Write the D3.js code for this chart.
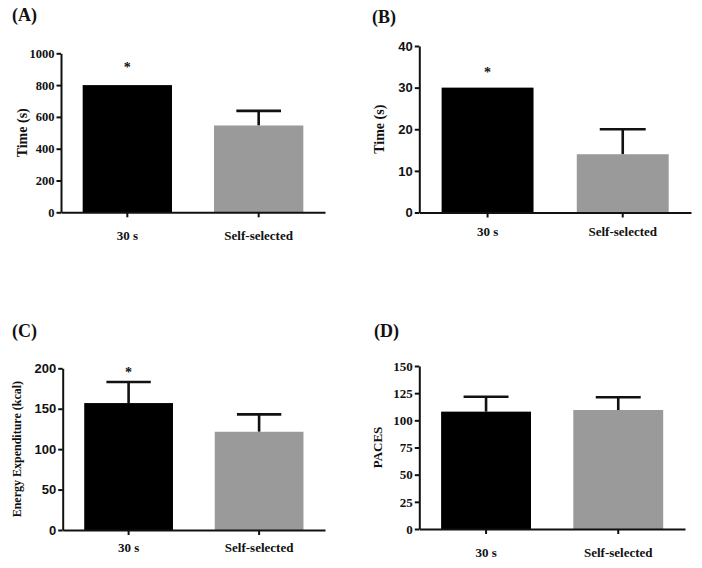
<!DOCTYPE html>
<html>
<head>
<meta charset="utf-8">
<script src="https://cdn.jsdelivr.net/npm/d3@7/dist/d3.min.js"></script>
<style>
    body { margin: 0; background: #fff; }
    svg text { fill: #111; font-weight: bold; }
</style>
</head>
<body>
<svg id="viz_bars"></svg>
<script>
// chart data
var categories = ["30 s", "Self-selected"];
var panelLabels = ["(A)", "(B)", "(C)", "(D)"];
var yTitles = ["Time (s)", "Time (s)", "Energy Expenditure (kcal)", "PACES"];
var meanValues = [[800, 546], [30, 14], [157, 121.5], [108, 109.5]];
var errorValues = [[0, 92], [0, 6], [26, 21.5], [13.7, 11.7]];
var yMaxValues = [1000, 40, 200, 150];
var yTickValues = [
    [0, 200, 400, 600, 800, 1000],
    [0, 10, 20, 30, 40],
    [0, 50, 100, 150, 200],
    [0, 25, 50, 75, 100, 125, 150]
];
var starValues = [[925, null], [34.3, null], [198, null], [null, null]];

var serif = "'Liberation Serif', 'Times New Roman', serif",
    sans = "'Liberation Sans', Arial, sans-serif",
    black = "#000",
    grey = "#9a9a9a";

// panel frames: axis left/right, top (yMax) and bottom (0)
var frames = [
    {"left": 61, "right": 325, "top": 53.3, "bottom": 212.3, "tickFont": serif, "tickSize": 12.5,
        "titleSize": 14, "titleX": 27, "labelX": 12, "labelY": 21, "catY": 28},
    {"left": 419.3, "right": 691, "top": 46, "bottom": 212.5, "tickFont": sans, "tickSize": 13,
        "titleSize": 14, "titleX": 383.5, "labelX": 372, "labelY": 23, "catY": 23},
    {"left": 62.7, "right": 325, "top": 368.3, "bottom": 530, "tickFont": sans, "tickSize": 13,
        "titleSize": 12, "titleX": 21, "labelX": 12, "labelY": 337, "catY": 22},
    {"left": 419.3, "right": 685, "top": 366, "bottom": 529, "tickFont": serif, "tickSize": 13,
        "titleSize": 13, "titleX": 381.5, "labelX": 374, "labelY": 337, "catY": 28}
];

var width = 702,
    height = 568;

var svg = d3.select("svg#viz_bars")
    .attr("width", width)
    .attr("height", height);

panelLabels.forEach(function(label, p) {
    var f = frames[p];

    var x = d3.scaleBand()
        .domain(categories)
        .range([f.left, f.right])
        .paddingInner(0.32)
        .paddingOuter(0.165);

    var y = d3.scaleLinear()
        .domain([0, yMaxValues[p]])
        .range([f.bottom, f.top]);

    var g = svg.append("g")
        .attr("class", "panel");

    var rows = categories.map(function(c, i) {
        return {
            "cat": c,
            "mean": meanValues[p][i],
            "err": errorValues[p][i],
            "star": starValues[p][i],
            "color": i === 0 ? black : grey
        };
    });

    // error bars drawn first so the bar hides the lower part
    var err_g = g.selectAll("g.err")
        .data(rows.filter(function(d) { return d.err > 0; }))
        .enter()
        .append("g")
            .attr("class", "err");

    err_g.append("line")
        .attr("x1", function(d) { return x(d.cat) + x.bandwidth() / 2; })
        .attr("x2", function(d) { return x(d.cat) + x.bandwidth() / 2; })
        .attr("y1", function(d) { return y(d.mean); })
        .attr("y2", function(d) { return y(d.mean + d.err); })
        .attr("stroke", "#111")
        .attr("stroke-width", 2.6);

    err_g.append("line")
        .attr("x1", function(d) { return x(d.cat) + x.bandwidth() / 4; })
        .attr("x2", function(d) { return x(d.cat) + x.bandwidth() * 3 / 4; })
        .attr("y1", function(d) { return y(d.mean + d.err); })
        .attr("y2", function(d) { return y(d.mean + d.err); })
        .attr("stroke", "#111")
        .attr("stroke-width", 2.6);

    g.selectAll("rect.bar")
        .data(rows)
        .enter()
        .append("rect")
            .attr("class", "bar")
            .attr("x", function(d) { return x(d.cat); })
            .attr("y", function(d) { return y(d.mean); })
            .attr("width", x.bandwidth())
            .attr("height", function(d) { return y(0) - y(d.mean); })
            .attr("fill", function(d) { return d.color; });

    g.selectAll("text.star")
        .data(rows.filter(function(d) { return d.star !== null; }))
        .enter()
        .append("text")
            .attr("class", "star")
            .attr("x", function(d) { return x(d.cat) + x.bandwidth() / 2; })
            .attr("y", function(d) { return y(d.star) + 7; })
            .attr("text-anchor", "middle")
            .style("font-family", serif)
            .style("font-size", "14px")
            .text("*");

    // y axis
    var y_axis = g.append("g")
        .attr("transform", "translate(" + [f.left, 0] + ")")
        .call(d3.axisLeft(y)
            .tickValues(yTickValues[p])
            .tickFormat(d3.format("d"))
            .tickSize(4.5)
            .tickPadding(2)
            .tickSizeOuter(0));

    y_axis.select(".domain")
        .attr("stroke", "#111")
        .attr("stroke-width", 2);
    y_axis.selectAll(".tick line")
        .attr("stroke", "#111")
        .attr("stroke-width", 2);
    y_axis.selectAll(".tick text")
        .style("font-family", f.tickFont)
        .style("font-size", f.tickSize + "px")
        .style("font-weight", "bold")
        .attr("fill", "#111");

    // x axis
    var x_axis = g.append("g")
        .attr("transform", "translate(" + [0, f.bottom] + ")")
        .call(d3.axisBottom(x)
            .tickSize(5)
            .tickSizeOuter(0)
            .tickFormat(""));

    x_axis.select(".domain")
        .attr("stroke", "#111")
        .attr("stroke-width", 2);
    x_axis.selectAll(".tick line")
        .attr("stroke", "#111")
        .attr("stroke-width", 2);

    g.selectAll("text.cat")
        .data(categories)
        .enter()
        .append("text")
            .attr("class", "cat")
            .attr("x", function(d) { return x(d) + x.bandwidth() / 2; })
            .attr("y", f.bottom + f.catY)
            .attr("text-anchor", "middle")
            .style("font-family", serif)
            .style("font-size", "13px")
            .text(function(d) { return d; });

    g.append("text")
        .attr("class", "ytitle")
        .attr("transform", "translate(" + [f.titleX, (f.top + f.bottom) / 2] + ") rotate(-90)")
        .attr("text-anchor", "middle")
        .style("font-family", serif)
        .style("font-size", f.titleSize + "px")
        .text(yTitles[p]);

    g.append("text")
        .attr("class", "plabel")
        .attr("x", f.labelX)
        .attr("y", f.labelY)
        .style("font-family", serif)
        .style("font-size", "18px")
        .text(label);
});
</script>
</body>
</html>
